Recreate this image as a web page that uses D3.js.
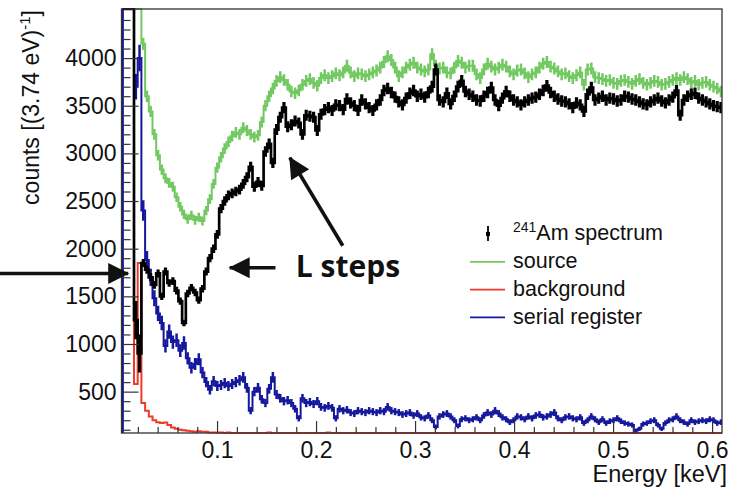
<!DOCTYPE html>
<meta charset="utf-8">
<script src="https://d3js.org/d3.v7.min.js"></script>
<style>
    body { margin: 0; background: #fff; }
    svg { font-family: "Liberation Sans", Arial, sans-serif; }
    .axis text { font-size: 23px; fill: #111; }
    .axis line { stroke: #333; stroke-width: 1.2px; }
    .legend text { font-size: 21.5px; fill: #111; }
    .note { font-family: "Open Sans", sans-serif; font-weight: 700; font-size: 30px; fill: #111; }
</style>
<div id="chart"></div>
<script>
    // histogram binning (keV)
    const binStart = 0.0049;
    const binWidth = 0.00374;

    // counts per bin (9000 = off scale)
    const amSpectrum = [
        9000, 9000, 9000, 1250, 900, 1850, 1780, 1700, 1620, 1740,
        1500, 1760, 1640, 1660, 1560, 1450, 1220, 1530, 1590, 1540,
        1460, 1580, 1760, 1900, 2000, 2150, 2420, 2500, 2560, 2580,
        2600, 2620, 2680, 2750, 2860, 2650, 2700, 2660, 3020, 3100,
        2900, 3250, 3380, 3480, 3280, 3300, 3340, 3320, 3200, 3400,
        3390, 3380, 3240, 3410, 3460, 3480, 3450, 3510, 3500, 3460,
        3570, 3530, 3500, 3450, 3560, 3520, 3480, 3450, 3510, 3560,
        3660, 3680, 3640, 3590, 3540, 3510, 3580, 3630, 3660, 3600,
        3620, 3590, 3640, 3700, 3880, 3560, 3540, 3630, 3520, 3600,
        3700, 3760, 3650, 3620, 3600, 3560, 3550, 3600, 3640, 3690,
        3560, 3500, 3580, 3650, 3600, 3560, 3540, 3510, 3540, 3560,
        3580, 3590, 3620, 3660, 3710, 3640, 3600, 3570, 3550, 3540,
        3520, 3480, 3530, 3510, 3440, 3620, 3690, 3560, 3580, 3600,
        3560, 3580, 3570, 3550, 3560, 3600, 3590, 3570, 3560, 3540,
        3520, 3510, 3540, 3560, 3580, 3550, 3530, 3560, 3590, 3660,
        3400, 3560, 3600, 3620, 3630, 3580, 3560, 3540, 3520, 3500,
        3490, 3480
    ];
    // large error bars of the first bins of the spectrum [bin, half length]
    const amLargeErrors = [[3, 200], [4, 200]];

    const source = [
        9000, 9000, 9000, 9000, 9000, 4150, 3600, 3440, 3200, 2980,
        2830, 2740, 2690, 2650, 2540, 2440, 2360, 2310, 2350, 2300,
        2330, 2290, 2400, 2520, 2680, 2850, 2960, 3050, 3120, 3180,
        3220, 3200, 3270, 3240, 3200, 3170, 3190, 3330, 3500, 3600,
        3680, 3760, 3800, 3770, 3720, 3650, 3630, 3660, 3720, 3760,
        3780, 3740, 3710, 3790, 3820, 3790, 3810, 3840, 3820, 3850,
        3920, 3850, 3810, 3840, 3830, 3810, 3830, 3850, 3870, 3900,
        3960, 4020, 3980, 3900, 3810, 3850, 3900, 3930, 3950, 3900,
        3880, 3860, 3880, 4040, 3920, 3890, 3900, 3850, 3840, 3900,
        3970, 3950, 3900, 3920, 3920, 3830, 3790, 3880, 3940, 3910,
        3880, 3900, 3930, 3910, 3860, 3830, 3870, 3880, 3840, 3800,
        3830, 3850, 3900, 3940, 3960, 3910, 3890, 3860, 3830, 3840,
        3810, 3790, 3820, 3850, 3720, 3880, 3890, 3800, 3790, 3780,
        3760, 3770, 3740, 3730, 3760, 3770, 3750, 3730, 3760, 3780,
        3740, 3720, 3740, 3760, 3750, 3720, 3730, 3750, 3770, 3790,
        3770, 3800, 3780, 3740, 3760, 3720, 3740, 3750, 3720, 3700,
        3680, 3650
    ];

    const background = [
        9000, 9000, 9000, 580, 1850, 380, 300, 240, 200, 180,
        170, 175, 150, 125, 110, 100, 95, 90, 85, 80,
        85, 78, 80, 72, 70, 68, 72, 66, 70, 64,
        60, 62, 66, 58, 55, 60, 57, 52, 55, 70,
        55, 50, 53, 48, 50, 52, 47, 50, 55, 49,
        46, 50, 52, 48, 45, 70, 50, 47, 45, 48,
        44, 46, 50, 45, 43, 47, 45, 44, 46, 42,
        45, 43, 47, 44, 42, 46, 45, 43, 44, 42,
        45, 41, 43, 44, 42, 40, 43, 45, 42, 41,
        44, 42, 40, 43, 41, 42, 44, 40, 42, 41,
        43, 40, 42, 41, 39, 42, 40, 43, 41, 40,
        42, 40, 41, 39, 42, 40, 41, 43, 40, 39,
        41, 40, 42, 39, 40, 41, 38, 40, 42, 39,
        40, 41, 39, 40, 38, 41, 40, 39, 40, 38,
        40, 39, 41, 38, 40, 39, 40, 38, 39, 40,
        39, 38, 40, 39, 38, 40, 39, 37, 39, 38,
        39, 38
    ];

    const serialRegister = [
        9000, 9000, 9000, 3700, 4000, 2400, 1880, 1700, 1480, 1320,
        1220, 980, 1130, 1020, 1040, 930, 1010, 850, 750, 790,
        840, 700, 600, 520, 610, 560, 570, 590, 560, 580,
        600, 620, 650, 540, 300, 500, 540, 420, 380, 530,
        650, 470, 430, 400, 410, 380, 320, 220, 430, 380,
        390, 370, 400, 340, 330, 350, 330, 220, 320, 300,
        310, 280, 270, 300, 290, 280, 300, 290, 280, 300,
        290, 340, 300, 290, 280, 260, 270, 280, 250, 270,
        230, 220, 250, 200, 130, 240, 260, 270, 240, 200,
        140, 210, 220, 200, 210, 230, 200, 250, 280, 260,
        300, 270, 230, 210, 180, 200, 240, 230, 210, 240,
        220, 250, 260, 230, 240, 260, 280, 220, 200, 230,
        240, 220, 210, 230, 170, 200, 240, 210, 180, 210,
        170, 190, 200, 220, 190, 170, 160, 150, 90, 110,
        160, 170, 190, 200, 150, 110, 170, 200, 210, 240,
        200, 180, 160, 200, 180, 190, 200, 190, 210, 200,
        170, 180
    ];

    const xTicks = [0.1, 0.2, 0.3, 0.4, 0.5, 0.6];
    const yTicks = [500, 1000, 1500, 2000, 2500, 3000, 3500, 4000];
    const legendLabels = ["241Am spectrum", "source", "background", "serial register"];

    const width = 732, height = 487;
    const margin = {top: 9, right: 10, bottom: 54, left: 121.5};
    const plotRight = width - margin.right, plotBottom = height - margin.bottom;

    const svg = d3.select("#chart")
        .append("svg")
        .attr("width", width)
        .attr("height", height);

    let x = d3.scaleLinear()
        .domain([0.0035, 0.61])
        .range([margin.left, plotRight]);

    let y = d3.scaleLinear()
        .domain([66, 4515])
        .range([plotBottom, margin.top])
        .clamp(true);

    svg.append("clipPath")
        .attr("id", "plotclip")
        .append("rect")
        .attr("x", margin.left)
        .attr("y", margin.top - 1)
        .attr("width", plotRight - margin.left)
        .attr("height", plotBottom - margin.top + 2);

    const colors = {
        am: "#000000",
        source: "#72c962",
        background: "#ee3a2b",
        serial: "#15189c"
    };

    const series = [
        {values: source, color: colors.source, lw: 2.0, err: 1.0},
        {values: background, color: colors.background, lw: 2.0, err: 0},
        {values: serialRegister, color: colors.serial, lw: 2.0, err: 2.2, fromBase: true},
        {values: amSpectrum, color: colors.am, lw: 2.7, err: 1.0, extra: new Map(amLargeErrors)}
    ];

    let plot = svg.append("g").attr("clip-path", "url(#plotclip)");

    let line = d3.line()
        .x(function (d) { return x(d[0]); })
        .y(function (d) { return y(d[1]); })
        .curve(d3.curveStepAfter);

    series.forEach(function (s) {
        let pts = s.values.map(function (v, k) { return [binStart + k * binWidth, v]; });
        pts.push([binStart + s.values.length * binWidth, s.values[s.values.length - 1]]);
        if (s.fromBase) {
            pts.unshift([binStart, y.domain()[0]]);
        }
        plot.append("path")
            .attr("d", line(pts))
            .attr("fill", "none")
            .attr("stroke", s.color)
            .attr("stroke-width", s.lw);

        if (s.err > 0) {
            const lo = y.domain()[0], hi = y.domain()[1];
            const bars = s.values
                .map(function (v, k) { return {v: v, k: k}; })
                .filter(function (d) { return d.v > lo && d.v < hi; });
            plot.selectAll(null)
                .data(bars)
                .enter()
                .append("line")
                .attr("x1", function (d) { return x(binStart + (d.k + 0.5) * binWidth); })
                .attr("x2", function (d) { return x(binStart + (d.k + 0.5) * binWidth); })
                .attr("y1", function (d) {
                    const e = (s.extra && s.extra.has(d.k)) ? s.extra.get(d.k) : s.err * Math.sqrt(d.v);
                    return y(d.v - e);
                })
                .attr("y2", function (d) {
                    const e = (s.extra && s.extra.has(d.k)) ? s.extra.get(d.k) : s.err * Math.sqrt(d.v);
                    return y(d.v + e);
                })
                .attr("stroke", s.color)
                .attr("stroke-width", s.lw + 0.5);
        }
    });

    // axes
    const xMinor = d3.range(1, 31).filter(function (i) { return i % 5 !== 0; }).map(function (i) { return i * 0.02; });
    const yMinor = d3.range(1, 46).filter(function (i) { return i % 5 !== 0; }).map(function (i) { return i * 100; });

    svg.append("g")
        .attr("class", "axis")
        .attr("transform", "translate(0," + plotBottom + ")")
        .call(d3.axisBottom(x).tickValues(xTicks).tickSize(-12).tickPadding(9).tickFormat(d3.format(".1f")));
    svg.append("g")
        .attr("class", "axis")
        .attr("transform", "translate(0," + plotBottom + ")")
        .call(d3.axisBottom(x).tickValues(xMinor).tickSize(-6).tickFormat(""));

    svg.append("g")
        .attr("class", "axis")
        .attr("transform", "translate(" + margin.left + ",0)")
        .call(d3.axisLeft(y).tickValues(yTicks).tickSize(-17).tickPadding(5).tickFormat(d3.format("d")));
    svg.append("g")
        .attr("class", "axis")
        .attr("transform", "translate(" + margin.left + ",0)")
        .call(d3.axisLeft(y).tickValues(yMinor).tickSize(-9).tickFormat(""));

    svg.selectAll(".axis").attr("font-size", null).attr("font-family", null);
    svg.selectAll(".axis .domain").remove();

    // frame
    svg.append("rect")
        .attr("x", margin.left)
        .attr("y", margin.top)
        .attr("width", plotRight - margin.left)
        .attr("height", plotBottom - margin.top)
        .attr("fill", "none")
        .attr("stroke", "#333")
        .attr("stroke-width", 1.3);

    // axis titles
    svg.append("text")
        .attr("x", 727)
        .attr("y", 482)
        .attr("text-anchor", "end")
        .style("font-size", "23.5px")
        .style("fill", "#111")
        .text("Energy [keV]");

    let ytitle = svg.append("text")
        .attr("transform", "translate(39,10) rotate(-90)")
        .attr("text-anchor", "end")
        .style("font-size", "23px")
        .style("fill", "#111");
    ytitle.append("tspan").text("counts [(3.74 eV)");
    ytitle.append("tspan").attr("dy", -9).style("font-size", "15px").text("-1");
    ytitle.append("tspan").attr("dy", 9).text("]");

    // legend
    const legendColors = [colors.am, colors.source, colors.background, colors.serial];
    let legend = svg.selectAll(".legend")
        .data(legendLabels)
        .enter().append("g")
        .attr("class", "legend")
        .attr("transform", function (d, i) {
            return "translate(0," + (234 + i * 27.8) + ")";
        });

    legend.each(function (d, i) {
        let g = d3.select(this);
        if (i === 0) {
            g.append("line")
                .attr("x1", 488).attr("x2", 488)
                .attr("y1", -8).attr("y2", 7)
                .attr("stroke", legendColors[i])
                .attr("stroke-width", 1.8);
            g.append("rect")
                .attr("x", 486).attr("y", -2)
                .attr("width", 4).attr("height", 4)
                .attr("fill", legendColors[i]);
            let t = g.append("text").attr("x", 513).attr("y", 6);
            t.append("tspan").attr("dy", -8).style("font-size", "14px").text(d.slice(0, 3));
            t.append("tspan").attr("dy", 8).text(d.slice(3));
        } else {
            g.append("line")
                .attr("x1", 470).attr("x2", 505)
                .attr("y1", 0).attr("y2", 0)
                .attr("stroke", legendColors[i])
                .attr("stroke-width", 1.8);
            g.append("text")
                .attr("x", 513)
                .attr("y", 6.5)
                .text(d);
        }
    });

    // annotation arrows (data coordinates: keV, counts)
    const arrows = [
        {from: [-0.125, 1740], to: [0.0102, 1740]},
        {from: [0.1590, 1800], to: [0.1128, 1800]},
        {from: [0.2270, 2031], to: [0.1735, 2955]}
    ];
    const noteLabel = {text: "L steps", at: [0.1795, 1698]};

    svg.append("defs").append("marker")
        .attr("id", "head")
        .attr("viewBox", "0 0 10 10")
        .attr("refX", 9.5)
        .attr("refY", 5)
        .attr("markerUnits", "userSpaceOnUse")
        .attr("markerWidth", 24)
        .attr("markerHeight", 21)
        .attr("orient", "auto")
        .append("path")
        .attr("d", "M0,0 L10,5 L0,10 z")
        .attr("fill", "#111");

    let yFree = y.copy().clamp(false);
    svg.selectAll(".arrow")
        .data(arrows)
        .enter().append("line")
        .attr("class", "arrow")
        .attr("x1", function (d) { return x(d.from[0]); })
        .attr("y1", function (d) { return yFree(d.from[1]); })
        .attr("x2", function (d) { return x(d.to[0]); })
        .attr("y2", function (d) { return yFree(d.to[1]); })
        .attr("stroke", "#111")
        .attr("stroke-width", 3.6)
        .attr("marker-end", "url(#head)");

    svg.append("text")
        .attr("class", "note")
        .attr("x", x(noteLabel.at[0]))
        .attr("y", yFree(noteLabel.at[1]))
        .text(noteLabel.text);
</script>
